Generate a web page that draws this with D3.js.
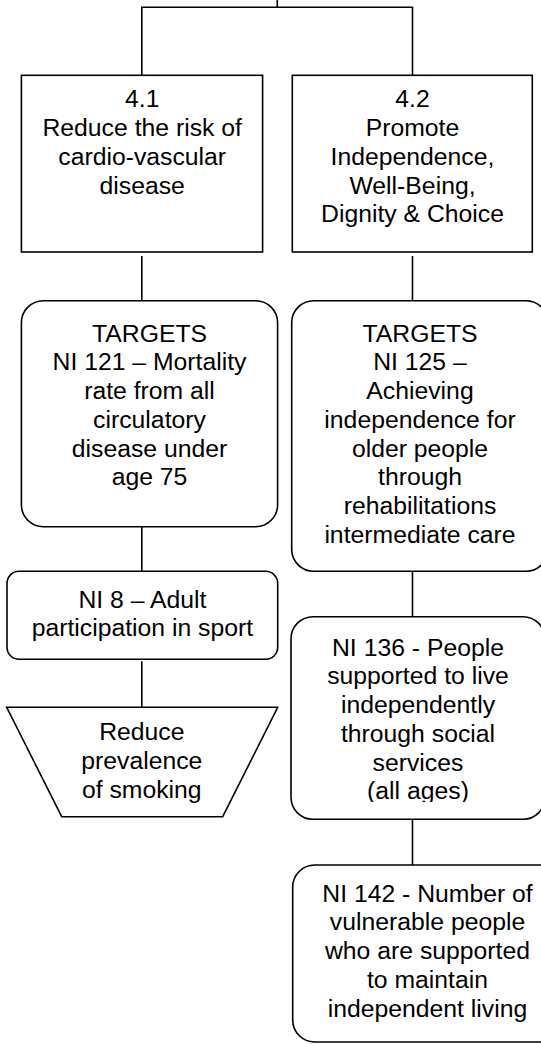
<!DOCTYPE html>
<html>
<head>
<meta charset="utf-8">
<script src="https://cdn.jsdelivr.net/npm/d3@7"></script>
<style>
  html, body { margin: 0; padding: 0; background: #fff; }
  svg { display: block; }
  text { font-family: "Liberation Sans", Arial, sans-serif; fill: #000; }
</style>
</head>
<body>
<div id="chart"></div>
<script>
// ---- data ----
const nodeIds = ["o41", "o42", "t121", "t125", "ni8", "smoke", "ni136", "ni142"];
const nodeShapes = ["rect", "rect", "round", "round", "roundSmall", "trapezoid", "round", "round"];
const nodeLabels = [
  ["4.1", "Reduce the risk of", "cardio-vascular", "disease"],
  ["4.2", "Promote", "Independence,", "Well-Being,", "Dignity & Choice"],
  ["TARGETS", "NI 121 \u2013 Mortality", "rate from all", "circulatory", "disease under", "age 75"],
  ["TARGETS", "NI 125 \u2013", "Achieving", "independence for", "older people", "through", "rehabilitations", "intermediate care"],
  ["NI 8 \u2013 Adult", "participation in sport"],
  ["Reduce", "prevalence", "of smoking"],
  ["NI 136 - People", "supported to live", "independently", "through social", "services", "(all ages)"],
  ["NI 142 - Number of", "vulnerable people", "who are supported", "to maintain", "independent living"]
];
const edges = [["o41", "t121"], ["t121", "ni8"], ["ni8", "smoke"], ["o42", "t125"], ["t125", "ni136"], ["ni136", "ni142"]];

// ---- layout (positions, sizes) ----
const layout = {
  o41:   {x0: 21.4,  x1: 262.6, y0: 75.3,  y1: 252,   tx: 142.2, ty: 107.3, gap: 4},
  o42:   {x0: 292.3, x1: 532.3, y0: 75.3,  y1: 252,   tx: 412.5, ty: 107.3, gap: 4},
  t121:  {x0: 21.4,  x1: 277.6, y0: 300.7, y1: 526.7, tx: 149.5, ty: 341.7, r: 22},
  t125:  {x0: 291.7, x1: 548,   y0: 300.7, y1: 571.3, tx: 420,   ty: 341.7, r: 22},
  ni8:   {x0: 7,     x1: 277.7, y0: 571.3, y1: 659.3, tx: 142.4, ty: 607.7, r: 12, gap: 2},
  smoke: {x0: 6.7,   x1: 277.7, y0: 707.3, y1: 816.7, bx0: 61.7, bx1: 222.7, tx: 141.8, ty: 740},
  ni136: {x0: 291,   x1: 545,   y0: 616.7, y1: 819.3, tx: 418,   ty: 655.7, r: 22, clipBottom: 802},
  ni142: {x0: 292.7, x1: 562,   y0: 865,   y1: 1042,  tx: 427.5, ty: 901.7, r: 22}
};
const colX = {o41: 141.8, t121: 141.8, ni8: 141.8, smoke: 141.8, o42: 412.5, t125: 412.5, ni136: 412.5, ni142: 412.5};
const rootX = 277.3, barY = 7.3;
const lineH = 28.75, fontSize = 24.75, strokeW = 1.6;

const W = 541, H = 1044;
const svg = d3.select("#chart").append("svg").attr("width", W).attr("height", H);
const defs = svg.append("defs");

const nodes = nodeIds.map((id, i) => ({id, shape: nodeShapes[i], lines: nodeLabels[i], ...layout[id]}));
const byId = new Map(nodes.map(n => [n.id, n]));

// top bracket
const bracket = d3.path();
bracket.moveTo(rootX, 0); bracket.lineTo(rootX, barY);
bracket.moveTo(colX.o41, layout.o41.y0); bracket.lineTo(colX.o41, barY); bracket.lineTo(colX.o42, barY); bracket.lineTo(colX.o42, layout.o42.y0);
svg.append("path").attr("d", bracket.toString()).attr("fill", "none").attr("stroke", "#000").attr("stroke-width", strokeW);

// edges
svg.selectAll("line.edge").data(edges).join("line")
  .attr("class", "edge")
  .attr("x1", d => colX[d[0]]).attr("x2", d => colX[d[0]])
  .attr("y1", d => byId.get(d[0]).y1 + (byId.get(d[0]).gap || 0))
  .attr("y2", d => byId.get(d[1]).y0)
  .attr("stroke", "#000").attr("stroke-width", strokeW);

// shapes
const g = svg.selectAll("g.node").data(nodes).join("g").attr("class", "node");
g.each(function(d) {
  const sel = d3.select(this);
  if (d.shape === "trapezoid") {
    sel.append("polygon")
      .attr("points", [[d.x0, d.y0], [d.x1, d.y0], [d.bx1, d.y1], [d.bx0, d.y1]].map(p => p.join(",")).join(" "))
      .attr("fill", "#fff").attr("stroke", "#000").attr("stroke-width", strokeW);
  } else {
    sel.append("rect")
      .attr("x", d.x0).attr("y", d.y0)
      .attr("width", d.x1 - d.x0).attr("height", d.y1 - d.y0)
      .attr("rx", d.r || 0).attr("ry", d.r || 0)
      .attr("fill", "#fff").attr("stroke", "#000").attr("stroke-width", strokeW);
  }
  let txt = sel.append("text").attr("text-anchor", "middle").style("font-size", fontSize + "px");
  if (d.clipBottom) {
    const cid = "clip-" + d.id;
    defs.append("clipPath").attr("id", cid).append("rect")
      .attr("x", d.x0).attr("y", d.y0).attr("width", d.x1 - d.x0).attr("height", d.clipBottom - d.y0);
    txt.attr("clip-path", `url(#${cid})`);
  }
  txt.selectAll("tspan").data(d.lines).join("tspan")
    .attr("x", d.tx)
    .attr("y", (l, i) => d.ty + i * lineH)
    .text(l => l);
});
</script>
</body>
</html>
